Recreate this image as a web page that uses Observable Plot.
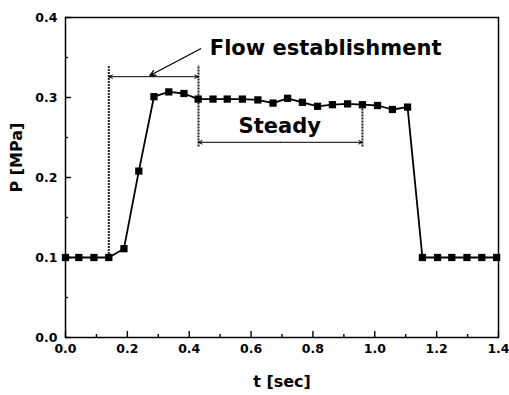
<!DOCTYPE html>
<html>
<head>
<meta charset="utf-8">
<script src="https://cdn.jsdelivr.net/npm/d3@7"></script>
<script src="https://cdn.jsdelivr.net/npm/@observablehq/plot@0.6"></script>
<style>
  html, body { margin: 0; padding: 0; background: #fff; }
  svg { display: block; }
</style>
</head>
<body>
<div id="chart"></div>
<script>
// Measured chamber pressure over one injection pulse
const time = [0.000, 0.043, 0.092, 0.140, 0.189, 0.237, 0.286, 0.334, 0.383, 0.429,
              0.477, 0.523, 0.572, 0.622, 0.671, 0.718, 0.766, 0.815, 0.863, 0.912,
              0.960, 1.009, 1.057, 1.106, 1.154, 1.203, 1.249, 1.298, 1.346, 1.394];
const pressure = [0.100, 0.100, 0.100, 0.100, 0.111, 0.208, 0.301, 0.307, 0.305, 0.298,
                  0.298, 0.298, 0.298, 0.297, 0.293, 0.299, 0.294, 0.289, 0.291, 0.292,
                  0.291, 0.290, 0.285, 0.288, 0.100, 0.100, 0.100, 0.100, 0.100, 0.100];

// Axis ticks and titles
const xTicks = [0.0, 0.2, 0.4, 0.6, 0.8, 1.0, 1.2, 1.4];
const xMinorTicks = [0.1, 0.3, 0.5, 0.7, 0.9, 1.1, 1.3];
const yTicks = [0.0, 0.1, 0.2, 0.3, 0.4];
const yMinorTicks = [0.05, 0.15, 0.25, 0.35];
const xTitle = "t [sec]";
const yTitle = "P [MPa]";

// Flow phases: start and end time of each
const phaseNames = ["Flow establishment", "Steady"];
const phaseStart = [0.14, 0.43];
const phaseEnd = [0.43, 0.96];

const rows = time.map((t, i) => ({t, p: pressure[i]}));

const W = 509, H = 395;
const mL = 65, mR = 11, mT = 17, mB = 58;
const xDomain = [0, 1.4], yDomain = [0, 0.4];
// pixel → data conversions for inward tick lengths
const pxPerX = (W - mL - mR) / (xDomain[1] - xDomain[0]);
const pxPerY = (H - mT - mB) / (yDomain[1] - yDomain[0]);
const majorLen = 6, minorLen = 3;

const font = "'DejaVu Sans', 'Liberation Sans', Arial, sans-serif";
const annoFont = 21;

// annotation geometry (data units)
const flowArrowY = 0.326;
const steadyArrowY = 0.244;
const guideTop = 0.34;

const guides = [
  {x: phaseStart[0], y1: 0.1, y2: guideTop},
  {x: phaseEnd[0], y1: 0.238, y2: guideTop},
  {x: phaseEnd[1], y1: 0.238, y2: pressure[20]}
];

function doubleArrow(x1, x2, y) {
  const mid = (x1 + x2) / 2;
  return [{x1: mid, x2: x1, y}, {x1: mid, x2: x2, y}];
}
const spans = [
  ...doubleArrow(phaseStart[0], phaseEnd[0], flowArrowY),
  ...doubleArrow(phaseStart[1], phaseEnd[1], steadyArrowY)
];

const chart = Plot.plot({
  width: W,
  height: H,
  marginLeft: mL,
  marginRight: mR,
  marginTop: mT,
  marginBottom: mB,
  style: {fontFamily: font, color: "#000", background: "#fff", overflow: "visible"},
  x: {domain: xDomain},
  y: {domain: yDomain},
  marks: [
    // inward ticks
    Plot.ruleX(xTicks, {x: d => d, y1: 0, y2: majorLen / pxPerY, stroke: "#000", strokeWidth: 1.4}),
    Plot.ruleX(xMinorTicks, {x: d => d, y1: 0, y2: minorLen / pxPerY, stroke: "#000", strokeWidth: 1.4}),
    Plot.ruleY(yTicks, {y: d => d, x1: 0, x2: majorLen / pxPerX, stroke: "#000", strokeWidth: 1.4}),
    Plot.ruleY(yMinorTicks, {y: d => d, x1: 0, x2: minorLen / pxPerX, stroke: "#000", strokeWidth: 1.4}),
    // tick labels
    Plot.axisX({ticks: xTicks, tickSize: 0, tickPadding: 7, tickFormat: d3.format(".1f"),
                label: null, fontSize: 12.5, fontWeight: "bold"}),
    Plot.axisY({ticks: yTicks, tickSize: 0, tickPadding: 8, tickFormat: d3.format(".1f"),
                label: null, fontSize: 12.5, fontWeight: "bold"}),
    // axis titles
    Plot.text([xTitle], {text: d => d, frameAnchor: "bottom", dy: 49, fontSize: 16, fontWeight: "bold"}),
    Plot.text([yTitle], {text: d => d, frameAnchor: "left", dx: -49, dy: 15, rotate: -90, fontSize: 16, fontWeight: "bold"}),
    // phase guides
    Plot.ruleX(guides, {x: "x", y1: "y1", y2: "y2", stroke: "#222", strokeWidth: 2, strokeDasharray: "2,1"}),
    Plot.arrow(spans, {x1: "x1", x2: "x2", y1: "y", y2: "y", stroke: "#000", strokeWidth: 1,
                       headLength: 6, headAngle: 50}),
    Plot.arrow([{x1: 0.437, y1: 0.361, x2: 0.273, y2: 0.3275}],
               {x1: "x1", y1: "y1", x2: "x2", y2: "y2", stroke: "#000", strokeWidth: 1.3,
                headLength: 7, headAngle: 50}),
    Plot.text([phaseNames[0]], {text: d => d, x: 0.841, y: 0.361, fontSize: annoFont, fontWeight: "bold"}),
    Plot.text([phaseNames[1]], {text: d => d, x: 0.6926, y: 0.2644, fontSize: annoFont, fontWeight: "bold"}),
    // data
    Plot.line(rows, {x: "t", y: "p", stroke: "#000", strokeWidth: 1.8}),
    Plot.dot(rows, {x: "t", y: "p", symbol: "square", r: 4.1, fill: "#000", stroke: "none"}),
    Plot.frame({stroke: "#000", strokeWidth: 1.5})
  ]
});

document.getElementById("chart").appendChild(chart);
</script>
</body>
</html>
